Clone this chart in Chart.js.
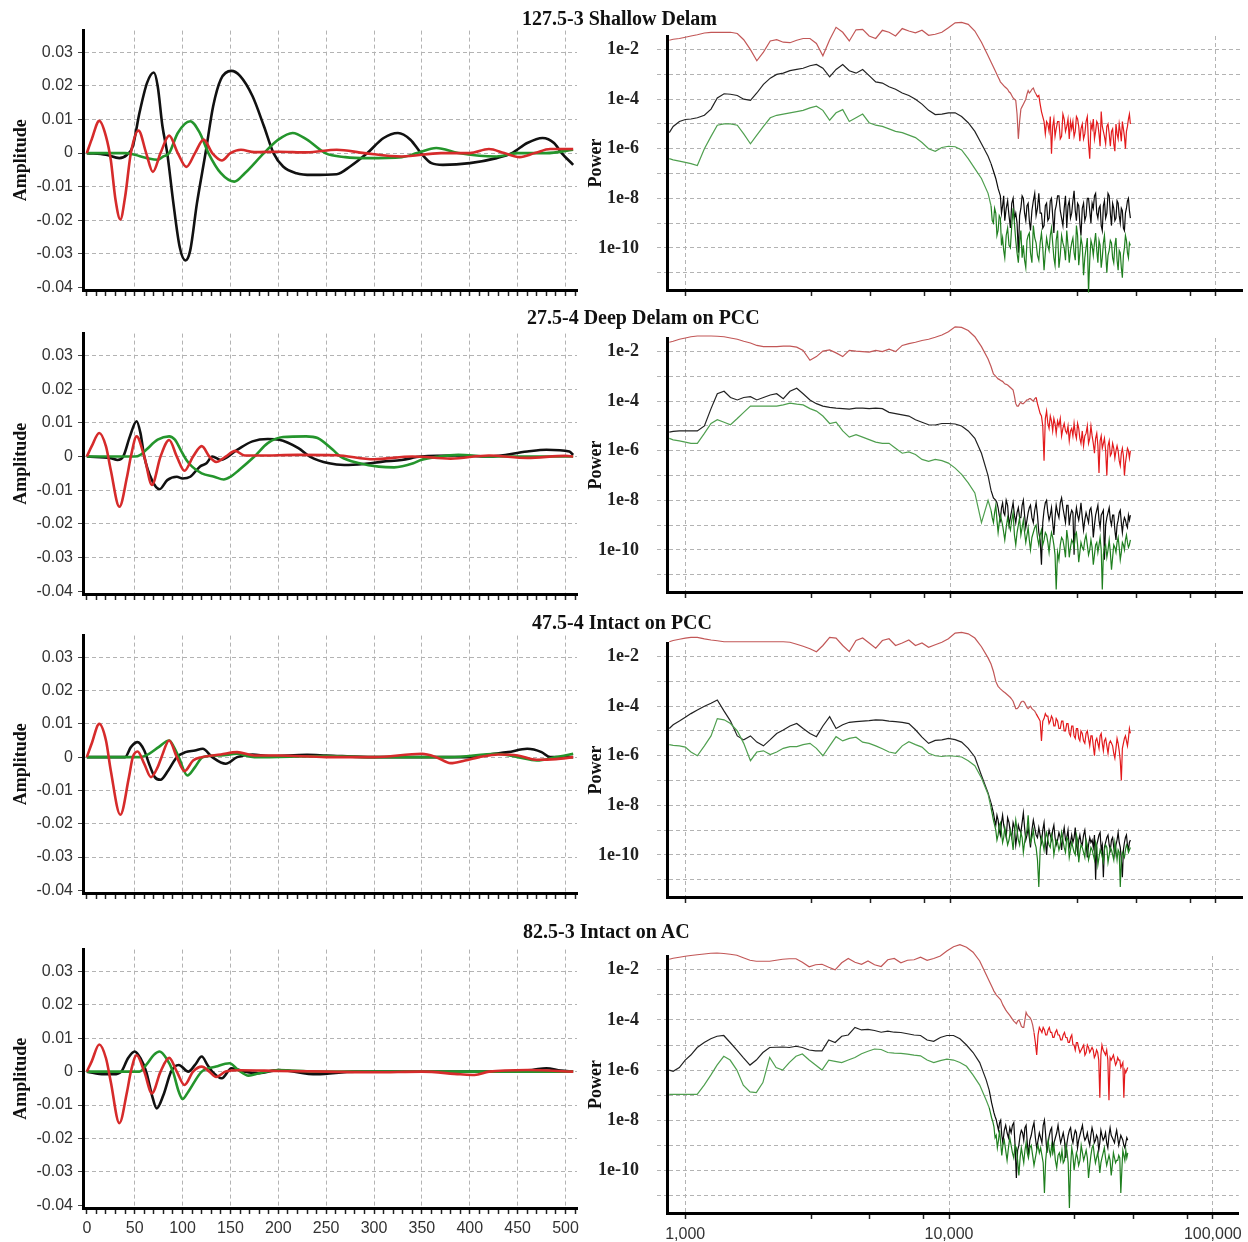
<!DOCTYPE html>
<html>
<head>
<meta charset="utf-8">
<script src="https://cdn.jsdelivr.net/npm/chart.js@4.4.1/dist/chart.umd.min.js"></script>
<style>
  body { margin: 0; background: #fff; width: 1248px; height: 1242px; position: relative; overflow: hidden; }
  .panel-title { position: absolute; font: bold 20px "Liberation Serif", "Times New Roman", serif; color: #111; white-space: nowrap; }
</style>
</head>
<body>
<script>
// time axis (samples) and amplitude ticks
const TIME_LABELS = [0, 50, 100, 150, 200, 250, 300, 350, 400, 450, 500];
const AMP_TICKS = [-0.04, -0.03, -0.02, -0.01, 0, 0.01, 0.02, 0.03];

// frequency axis (Hz) and power decades
const FREQ_TICKS = [1000, 3000, 5000, 8000, 10000, 30000, 50000, 80000, 100000];
const FREQ_LABELS = ["1,000", "", "", "", "10,000", "", "", "", "100,000"];
const POW_DECADES = [-11, -10, -9, -8, -7, -6, -5, -4, -3, -2];

// [sample, amplitude]
const shallowAmpRed = [[0,0],[5,0.004],[13,0.0096],[20,0.005],[25,-0.002],[30,-0.014],[35,-0.0198],[40,-0.013],[46,0],[54,0.0067],[62,0],[69,-0.0056],[77,0],[86,0.0052],[95,0],[104,-0.0041],[113,0],[122,0.004],[131,0],[141,-0.0022],[150,0],[161,0.001],[175,0.0003],[200,0.0004],[230,0.0002],[261,0.001],[290,0],[329,-0.001],[370,0],[400,0],[420,0.0012],[436,0],[452,-0.0012],[468,0],[484,0.0012],[508,0.0012]];
const shallowAmpBlack = [[0,0],[20,-0.0005],[34,-0.0015],[42,-0.0005],[48,0.002],[55,0.012],[63,0.021],[70,0.024],[74,0.02],[79,0.008],[84,0],[90,-0.014],[97,-0.028],[103,-0.032],[108,-0.029],[115,-0.015],[124,0],[132,0.014],[140,0.022],[151,0.0245],[160,0.023],[173,0.017],[185,0.008],[195,0],[205,-0.004],[219,-0.006],[235,-0.0065],[261,-0.0063],[275,-0.004],[293,0],[310,0.0045],[325,0.006],[338,0.004],[349,0],[360,-0.003],[372,-0.0035],[400,-0.003],[428,-0.0015],[444,0],[460,0.003],[476,0.0045],[488,0.003],[496,0],[508,-0.0035]];
const shallowAmpGreen = [[0,0],[40,0],[50,-0.0005],[63,-0.0015],[74,-0.002],[80,-0.001],[86,0],[95,0.006],[108,0.0095],[118,0.006],[127,0],[140,-0.006],[154,-0.0085],[165,-0.006],[185,0],[200,0.004],[215,0.006],[230,0.004],[249,0],[270,-0.0012],[293,-0.0015],[329,-0.0012],[345,0],[365,0.0015],[388,0],[410,-0.0008],[428,-0.001],[450,0],[480,0],[508,0.001]];

const deepAmpRed = [[0,0],[5,0.003],[13,0.007],[20,0.003],[25,-0.004],[34,-0.0149],[42,-0.006],[46,0],[52,0.006],[60,0],[68,-0.0084],[77,0],[86,0.0049],[94,0],[102,-0.0042],[111,0],[120,0.0031],[128,0],[135,-0.0016],[145,0],[155,0.0017],[165,0.0003],[180,0.0003],[220,0.0005],[260,0.0004],[300,-0.0008],[340,0],[380,-0.0006],[420,0.0003],[460,-0.0004],[500,0.0002],[508,0]];
const deepAmpBlack = [[0,0],[25,-0.0005],[32,-0.001],[38,0],[45,0.006],[52,0.0105],[56,0.007],[60,0],[68,-0.007],[76,-0.0097],[84,-0.007],[94,-0.006],[100,-0.0065],[108,-0.006],[118,-0.003],[125,-0.002],[131,0],[140,-0.001],[157,0.002],[173,0.0045],[189,0.0052],[201,0.005],[221,0.0025],[233,0],[253,-0.002],[269,-0.0025],[289,-0.0022],[309,-0.0015],[329,-0.001],[349,0],[388,0.0003],[420,0],[460,0.0015],[480,0.002],[504,0.0015],[508,0.0005]];
const deepAmpGreen = [[0,0],[50,0],[56,0.0005],[62,0.002],[74,0.005],[86,0.006],[92,0.005],[98,0.002],[104,-0.001],[110,-0.003],[120,-0.005],[133,-0.006],[143,-0.0068],[150,-0.006],[159,-0.004],[175,0],[189,0.004],[205,0.0058],[229,0.006],[241,0.0055],[257,0.002],[265,0],[285,-0.002],[305,-0.003],[321,-0.0032],[341,-0.002],[349,-0.001],[368,0],[388,0.0005],[420,0],[508,0]];

const pccAmpRed = [[0,0],[5,0.004],[13,0.01],[20,0.005],[25,-0.004],[35,-0.0173],[44,-0.006],[48,0],[53,0.0017],[60,-0.002],[67,-0.006],[74,-0.003],[78,0],[86,0.005],[94,0],[102,-0.0042],[111,-0.001],[120,0],[140,0.0008],[157,0.0015],[175,0.0005],[200,0.0005],[250,0],[300,0],[350,0.001],[365,0],[380,-0.0018],[395,-0.001],[410,0],[430,0.0008],[450,0.0005],[470,-0.0008],[490,-0.0006],[508,0]];
const pccAmpBlack = [[0,0],[30,0],[40,0],[46,0.003],[53,0.0045],[60,0.002],[65,-0.002],[71,-0.006],[77,-0.0068],[85,-0.004],[94,0],[103,0.0015],[113,0.002],[121,0.0025],[131,0],[145,-0.002],[157,0],[173,0.0008],[190,0.0003],[230,0.0007],[250,0.0005],[300,0],[350,0],[400,0],[420,0.0008],[440,0.0015],[460,0.0025],[475,0.0015],[484,0],[508,0]];
const pccAmpGreen = [[0,0],[55,0],[65,0.001],[75,0.003],[86,0.005],[91,0.003],[96,0],[105,-0.0055],[113,-0.003],[121,0],[140,0.0005],[157,0.001],[175,0],[250,0.0003],[300,0],[380,0],[428,0.001],[450,0],[470,-0.001],[490,0],[508,0.001]];

const acAmpRed = [[0,0],[5,0.003],[13,0.0081],[20,0.004],[25,-0.003],[34,-0.0154],[42,-0.006],[46,0],[52,0.0049],[60,0],[68,-0.0065],[77,0],[86,0.0041],[94,0],[102,-0.004],[111,0],[120,0.0015],[128,0],[135,-0.0016],[145,0],[160,0.0004],[200,0.0002],[250,0],[300,-0.0002],[350,0],[390,-0.0008],[405,-0.001],[420,0],[460,0.0005],[508,0]];
const acAmpBlack = [[0,0],[18,-0.0008],[28,-0.0008],[36,0],[43,0.004],[50,0.006],[56,0.004],[62,0],[68,-0.007],[73,-0.011],[80,-0.007],[88,0],[96,0.002],[106,0],[113,0.002],[120,0.0045],[126,0.002],[131,0],[141,-0.002],[151,0.001],[165,0],[180,-0.0005],[200,0.0005],[240,-0.0008],[280,0],[350,0],[420,0],[465,0.0005],[480,0.001],[495,0.0003],[508,0]];
const acAmpGreen = [[0,0],[55,0],[62,0.002],[70,0.005],[76,0.006],[83,0.004],[90,0],[96,-0.006],[100,-0.0082],[106,-0.006],[120,0],[135,0.0015],[149,0.0025],[158,0.0005],[169,-0.0012],[180,-0.0005],[200,0.0005],[240,0],[300,0],[400,0],[508,0]];

// spectrum frequencies (Hz), shared by every power trace: 50 low band + 117 high band
const FREQ_HZ = [
  870, 900, 950, 1000, 1050, 1110, 1180, 1250, 1320, 1400,
  1480, 1570, 1660, 1760, 1860, 1970, 2090, 2210, 2340, 2480,
  2630, 2780, 2950, 3120, 3300, 3500, 3700, 3920, 4150, 4400,
  4660, 4930, 5220, 5530, 5860, 6200, 6570, 6960, 7370, 7800,
  8260, 8750, 9270, 9810, 10400, 11000, 11650, 12340, 13070, 13840,
  14200, 14350, 14500, 14650, 14800, 14950, 15100, 15250, 15400, 15550, 15700, 15850, 16000,
  16200, 16400, 16600, 16800, 17000, 17200, 17400, 17600, 17800, 18000, 18200, 18400, 18600,
  18800, 19000, 19200, 19400, 19600, 19800, 20000, 20250, 20500, 20750, 21000, 21250, 21500,
  21750, 22000, 22250, 22500, 22750, 23000, 23250, 23500, 23750, 24000, 24250, 24500, 24750,
  25000, 25300, 25600, 25900, 26200, 26500, 26800, 27100, 27400, 27700, 28000, 28300, 28600,
  28900, 29200, 29500, 29800, 30100, 30400, 30700, 31000, 31350, 31700, 32050, 32400, 32750,
  33100, 33450, 33800, 34150, 34500, 34850, 35200, 35550, 35900, 36250, 36600, 36950, 37300,
  37650, 38000, 38400, 38800, 39200, 39600, 40000, 40400, 40800, 41200, 41600, 42000, 42400,
  42800, 43200, 43600, 44000, 44400, 44800, 45200, 45600, 46000, 46400, 46800, 47200, 47600
];

// power spectra, stored as log10(power)
const shallowPowRed = [
  -1.62,-1.58,-1.55,-1.5,-1.45,-1.4,-1.33,-1.3,-1.3,-1.3,
  -1.3,-1.35,-1.6,-2.0,-2.45,-2.1,-1.65,-1.6,-1.7,-1.72,
  -1.62,-1.55,-1.55,-1.75,-2.25,-1.6,-1.1,-1.3,-1.65,-1.2,
  -1.18,-1.45,-1.55,-1.22,-1.3,-1.45,-1.15,-1.25,-1.32,-1.22,
  -1.42,-1.38,-1.3,-1.12,-0.92,-0.9,-0.98,-1.25,-1.7,-2.25,
  -2.5,-2.6,-2.7,-2.8,-2.9,-3.0,-3.1,-3.2,-3.3,-3.35,-3.4,-3.45,-3.5,
  -3.55,-3.6,-3.7,-3.75,-3.85,-3.95,-4.0,-4.05,-4.6,-5.6,-4.9,-4.4,-4.3,
  -4.2,-4.1,-4.0,-3.8,-3.65,-3.75,-3.7,-3.6,-3.55,-3.7,-3.8,-3.9,-3.85,
  -4.2,-4.5,-4.7,-4.9,-5.4,-4.9,-5.0,-5.3,-4.7,-6.2,-5.1,-4.8,-5.5,
  -5.2,-4.9,-4.9,-5.6,-5.5,-4.6,-4.8,-5.3,-5.1,-4.8,-5.6,-4.9,-5.2,
  -4.9,-5.5,-5.3,-4.7,-4.8,-5.1,-5.7,-5.2,-5.0,-5.6,-5.4,-4.9,-4.7,
  -5.8,-6.4,-5.0,-5.2,-4.8,-5.6,-5.3,-4.9,-5.0,-5.4,-5.9,-4.5,-5.1,
  -5.3,-5.5,-5.8,-5.1,-5.0,-5.4,-5.9,-5.3,-5.2,-5.8,-6.1,-5.0,-5.4,
  -5.6,-5.0,-5.3,-5.7,-4.9,-5.2,-5.5,-6.0,-5.3,-5.1,-4.8,-4.6,-5.0
];
const shallowPowBlack = [
  -5.35,-5.1,-4.9,-4.82,-4.8,-4.75,-4.65,-4.4,-3.95,-3.78,
  -3.8,-3.85,-4.0,-4.05,-3.75,-3.4,-3.15,-3.0,-2.95,-2.85,
  -2.8,-2.75,-2.65,-2.6,-2.75,-3.1,-2.8,-2.6,-2.85,-2.95,
  -2.8,-3.05,-3.3,-3.35,-3.5,-3.6,-3.75,-3.85,-4.0,-4.2,
  -4.45,-4.62,-4.6,-4.55,-4.55,-4.7,-4.95,-5.3,-5.8,-6.3,
  -6.6,-6.75,-6.9,-7.05,-7.2,-7.4,-7.6,-7.75,-7.9,-8.6,-8.3,-7.9,-8.9,
  -8.4,-8.1,-8.7,-9.2,-8.2,-8.0,-8.8,-8.6,-9.0,-10.2,-8.7,-8.4,-7.9,
  -8.0,-8.6,-8.9,-8.3,-8.2,-8.9,-9.3,-8.5,-8.1,-7.8,-8.7,-8.4,-7.8,
  -8.6,-8.6,-9.2,-9.1,-8.3,-8.2,-8.9,-8.8,-8.1,-8.0,-8.7,-9.4,-8.5,
  -8.3,-7.9,-7.9,-8.5,-8.8,-9.1,-8.4,-7.9,-9.2,-8.3,-8.1,-8.8,-8.6,
  -8.1,-7.7,-8.5,-8.9,-8.2,-8.3,-9.0,-9.5,-8.4,-8.2,-8.9,-8.7,-8.0,
  -8.0,-8.5,-9.0,-8.2,-8.4,-7.9,-7.8,-8.6,-8.8,-8.4,-8.3,-9.1,-9.3,
  -8.3,-8.1,-8.8,-8.6,-7.8,-7.9,-8.6,-9.1,-8.2,-8.4,-8.9,-8.8,-8.1,
  -8.2,-8.7,-9.0,-8.4,-8.5,-9.2,-9.3,-8.6,-8.4,-8.1,-8.0,-8.5,-8.8
];
const shallowPowGreen = [
  -6.4,-6.45,-6.5,-6.55,-6.6,-6.68,-6.0,-5.5,-5.05,-5.0,
  -5.0,-5.05,-5.4,-5.8,-5.45,-5.1,-4.75,-4.65,-4.6,-4.55,
  -4.5,-4.45,-4.35,-4.28,-4.45,-4.85,-4.55,-4.42,-4.9,-4.75,
  -4.6,-4.95,-5.05,-5.1,-5.2,-5.3,-5.35,-5.45,-5.55,-5.75,
  -6.0,-6.1,-5.95,-5.9,-5.92,-6.05,-6.4,-6.8,-7.2,-7.8,
  -8.3,-8.9,-9.0,-8.4,-8.6,-9.5,-9.3,-8.7,-8.8,-9.9,-9.6,-10.1,-10.4,
  -9.5,-9.2,-9.9,-10.0,-9.1,-8.4,-9.0,-9.7,-10.2,-10.6,-9.8,-9.3,-10.4,
  -9.9,-10.5,-10.8,-9.7,-9.5,-9.4,-10.2,-10.6,-9.1,-9.6,-9.8,-10.3,-10.5,
  -9.8,-9.4,-10.0,-10.9,-10.2,-9.6,-9.9,-10.1,-9.5,-9.2,-9.8,-10.4,-10.7,
  -9.7,-9.3,-10.8,-10.3,-9.5,-9.8,-10.0,-10.5,-9.3,-9.9,-10.6,-10.1,-9.8,
  -9.6,-10.2,-10.5,-9.1,-9.5,-10.7,-10.2,-9.6,-9.9,-11.1,-10.4,-10.0,-9.6,
  -11.8,-10.5,-9.7,-9.9,-10.3,-9.8,-9.4,-10.1,-10.6,-9.7,-9.9,-10.8,-10.4,
  -9.8,-9.5,-10.2,-11.0,-10.3,-10.1,-9.7,-9.8,-10.4,-10.6,-9.9,-9.6,-10.5,
  -10.9,-10.1,-10.2,-10.8,-11.2,-10.3,-10.0,-9.5,-9.7,-10.2,-10.4,-9.8,-9.9
];

const deepPowRed = [
  -1.62,-1.58,-1.5,-1.45,-1.4,-1.37,-1.37,-1.37,-1.38,-1.4,
  -1.45,-1.5,-1.58,-1.65,-1.75,-1.8,-1.8,-1.8,-1.78,-1.78,
  -1.82,-1.95,-2.35,-2.2,-1.98,-1.93,-2.05,-2.2,-1.95,-1.98,
  -2.0,-2.02,-1.95,-2.0,-1.9,-2.0,-1.75,-1.68,-1.62,-1.55,
  -1.5,-1.42,-1.33,-1.2,-1.0,-1.02,-1.15,-1.4,-1.8,-2.3,
  -2.6,-2.75,-2.9,-2.95,-3.0,-3.05,-3.1,-3.12,-3.15,-3.18,-3.2,-3.25,-3.3,
  -3.32,-3.35,-3.4,-3.45,-3.5,-3.55,-3.8,-4.1,-4.2,-4.2,-4.1,-4.05,-4.1,
  -4.1,-4.05,-4.0,-3.95,-3.95,-3.9,-3.9,-3.95,-4.0,-3.9,-3.85,-4.1,-4.3,
  -4.5,-4.6,-5.0,-6.4,-4.7,-4.4,-4.9,-5.1,-4.6,-4.8,-5.2,-4.7,-4.9,
  -5.3,-4.8,-5.0,-4.7,-5.4,-5.1,-4.9,-5.2,-5.3,-5.0,-5.6,-5.2,-5.1,
  -5.4,-4.9,-5.3,-5.5,-4.9,-5.1,-5.5,-5.7,-5.2,-5.8,-5.4,-5.3,-5.0,
  -5.7,-5.5,-5.0,-5.4,-5.7,-6.1,-5.5,-5.3,-5.8,-6.9,-5.6,-5.4,-5.9,
  -5.7,-5.5,-6.0,-7.0,-5.8,-5.6,-6.2,-6.1,-5.7,-5.9,-6.3,-6.0,-5.8,
  -6.0,-6.4,-6.6,-6.1,-5.9,-6.2,-7.0,-6.5,-6.2,-5.9,-6.0,-6.3,-6.0
];
const deepPowBlack = [
  -5.25,-5.22,-5.2,-5.2,-5.2,-5.2,-5.0,-4.3,-3.7,-3.6,
  -3.85,-3.95,-3.85,-3.82,-3.95,-3.85,-3.75,-3.7,-3.9,-3.6,
  -3.48,-3.7,-3.95,-4.1,-4.2,-4.25,-4.28,-4.3,-4.32,-4.28,
  -4.28,-4.3,-4.28,-4.3,-4.45,-4.5,-4.55,-4.6,-4.75,-4.85,
  -4.95,-4.96,-4.9,-4.9,-4.92,-5.0,-5.2,-5.5,-6.1,-7.0,
  -7.6,-7.75,-7.9,-7.95,-8.0,-8.1,-8.3,-8.6,-8.8,-8.3,-8.1,-8.5,-8.6,
  -8.0,-8.2,-9.0,-8.7,-8.4,-8.1,-8.6,-8.9,-8.5,-8.3,-8.7,-8.7,-8.2,
  -8.0,-8.6,-9.1,-8.8,-8.5,-8.3,-8.2,-8.7,-8.9,-8.4,-8.1,-8.6,-9.3,
  -9.6,-10.6,-8.9,-8.4,-8.1,-8.0,-8.5,-8.8,-8.6,-8.3,-8.9,-9.4,-8.7,
  -8.2,-8.5,-8.7,-8.1,-7.9,-8.3,-8.6,-8.9,-8.2,-8.2,-9.0,-8.6,-8.4,
  -8.5,-10.2,-8.7,-8.3,-8.6,-8.8,-8.5,-8.1,-8.7,-9.2,-8.8,-8.5,-8.7,
  -8.9,-8.4,-8.3,-8.7,-9.5,-9.0,-8.6,-8.4,-8.2,-8.8,-9.1,-8.6,-8.5,
  -8.4,-10.4,-9.0,-8.7,-8.5,-8.3,-8.8,-9.0,-8.6,-8.6,-9.2,-9.6,-9.0,
  -8.8,-8.5,-8.4,-8.9,-9.3,-8.9,-8.7,-8.8,-9.0,-9.1,-8.6,-8.8,-8.6
];
const deepPowGreen = [
  -5.5,-5.56,-5.6,-5.65,-5.7,-5.7,-5.3,-4.9,-4.75,-4.85,
  -4.95,-4.7,-4.45,-4.2,-4.2,-4.2,-4.2,-4.2,-4.15,-4.08,
  -4.12,-4.15,-4.3,-4.4,-4.6,-4.9,-4.85,-5.2,-5.45,-5.35,
  -5.45,-5.55,-5.65,-5.7,-5.7,-5.9,-6.1,-6.05,-6.15,-6.35,
  -6.43,-6.35,-6.4,-6.5,-6.7,-6.95,-7.3,-7.7,-8.9,-8.0,
  -8.4,-8.7,-8.9,-8.5,-8.2,-8.8,-9.3,-8.9,-8.6,-8.8,-9.0,-9.3,-9.6,
  -9.1,-8.7,-9.0,-9.2,-8.8,-8.5,-9.4,-9.8,-9.3,-9.0,-8.7,-9.4,-9.1,
  -8.8,-9.3,-9.7,-9.4,-9.1,-9.6,-10.0,-9.5,-9.3,-9.1,-9.0,-9.5,-9.8,
  -9.4,-9.2,-9.8,-9.6,-9.3,-9.4,-9.7,-10.1,-9.6,-9.3,-9.5,-9.8,-10.2,
  -11.6,-10.1,-10.4,-9.8,-9.5,-9.6,-9.9,-10.3,-9.2,-9.6,-10.3,-9.9,-9.6,
  -9.7,-9.9,-9.4,-9.3,-9.8,-10.5,-10.1,-9.7,-9.9,-10.0,-9.6,-9.4,-9.8,
  -10.2,-10.0,-9.6,-9.9,-10.6,-10.2,-9.8,-9.7,-10.1,-9.8,-9.5,-10.0,-11.6,
  -10.2,-9.9,-9.8,-10.3,-10.0,-9.6,-10.1,-10.8,-10.3,-9.8,-9.9,-10.1,-9.7,
  -9.5,-9.9,-10.4,-10.1,-9.7,-9.8,-10.0,-9.6,-9.4,-9.7,-9.9,-9.8,-9.6
];

const pccPowRed = [
  -1.4,-1.35,-1.3,-1.25,-1.22,-1.22,-1.28,-1.33,-1.36,-1.4,
  -1.4,-1.4,-1.4,-1.4,-1.4,-1.4,-1.4,-1.4,-1.4,-1.42,
  -1.5,-1.58,-1.68,-1.8,-1.55,-1.22,-1.25,-1.55,-1.8,-1.35,
  -1.25,-1.45,-1.66,-1.35,-1.28,-1.55,-1.45,-1.33,-1.55,-1.45,
  -1.62,-1.52,-1.42,-1.28,-1.05,-1.02,-1.08,-1.25,-1.6,-2.05,
  -2.3,-2.45,-2.6,-2.8,-3.0,-3.1,-3.2,-3.25,-3.3,-3.34,-3.38,-3.42,-3.45,
  -3.5,-3.55,-3.6,-3.65,-3.72,-3.8,-3.95,-4.1,-4.1,-4.05,-3.95,-3.85,-3.8,
  -3.8,-3.85,-3.95,-4.05,-4.1,-4.05,-4.0,-4.1,-4.15,-4.2,-4.3,-4.4,-4.5,
  -4.6,-5.4,-4.6,-4.5,-4.3,-4.4,-4.4,-4.7,-4.6,-4.4,-4.5,-4.8,-4.8,
  -4.5,-4.6,-4.9,-4.9,-4.6,-4.6,-5.0,-5.0,-4.7,-4.7,-5.1,-5.2,-4.8,
  -4.8,-5.2,-5.3,-4.9,-4.9,-5.3,-5.4,-5.0,-5.1,-5.4,-5.5,-5.1,-5.0,
  -5.3,-5.6,-5.2,-5.2,-5.6,-6.0,-5.4,-5.3,-5.5,-5.7,-5.2,-5.1,-5.5,
  -5.8,-5.4,-5.3,-5.6,-5.9,-5.5,-5.4,-5.5,-5.6,-5.9,-6.1,-5.7,-5.3,
  -5.5,-5.8,-6.2,-7.0,-5.7,-5.5,-5.3,-5.2,-5.4,-5.6,-5.3,-4.9,-5.1
];
const pccPowBlack = [
  -4.9,-4.75,-4.6,-4.45,-4.3,-4.15,-4.0,-3.88,-3.75,-4.2,
  -4.6,-5.2,-5.36,-5.2,-5.45,-5.6,-5.35,-5.1,-4.96,-4.8,
  -4.7,-4.9,-5.1,-5.23,-4.8,-4.42,-4.9,-4.75,-4.65,-4.62,
  -4.6,-4.58,-4.55,-4.56,-4.6,-4.62,-4.65,-4.7,-4.95,-5.25,
  -5.5,-5.38,-5.36,-5.3,-5.35,-5.45,-5.7,-6.05,-6.8,-7.5,
  -7.9,-8.1,-8.3,-8.6,-8.8,-8.4,-8.6,-9.0,-9.2,-8.7,-8.4,-8.8,-9.0,
  -9.3,-8.5,-8.7,-9.1,-9.3,-8.7,-8.9,-9.6,-9.2,-8.8,-9.0,-9.1,-8.7,
  -8.3,-8.9,-9.4,-9.2,-8.9,-9.3,-9.7,-9.0,-8.6,-8.9,-9.2,-9.3,-8.9,
  -9.2,-9.5,-9.0,-8.7,-9.4,-10.0,-9.3,-9.0,-9.2,-9.4,-9.0,-8.8,-9.3,
  -9.6,-9.4,-9.1,-9.3,-9.8,-9.2,-8.9,-9.4,-9.3,-9.0,-9.7,-9.5,-9.2,
  -9.5,-9.3,-8.9,-9.6,-9.9,-9.4,-9.2,-9.5,-9.6,-9.2,-9.0,-9.5,-10.1,
  -9.6,-9.3,-9.5,-9.4,-9.7,-9.2,-11.0,-9.6,-9.4,-9.2,-9.1,-9.8,-9.6,
  -10.9,-9.7,-9.5,-9.3,-9.2,-9.6,-9.8,-9.4,-9.3,-9.7,-10.0,-9.6,-9.4,
  -9.1,-9.5,-9.7,-10.2,-10.9,-9.8,-9.5,-9.3,-9.2,-9.6,-9.8,-9.5,-9.4
];
const pccPowGreen = [
  -5.55,-5.58,-5.6,-5.65,-5.85,-6.0,-5.6,-5.2,-4.5,-4.55,
  -4.7,-5.0,-5.5,-6.2,-5.85,-5.8,-5.95,-5.85,-5.7,-5.63,
  -5.63,-5.55,-5.5,-5.7,-6.0,-5.6,-5.23,-5.4,-5.3,-5.25,
  -5.45,-5.5,-5.6,-5.72,-5.85,-5.9,-5.6,-5.43,-5.55,-5.65,
  -5.9,-6.0,-6.03,-6.0,-6.02,-6.05,-6.2,-6.4,-6.9,-7.55,
  -8.1,-8.35,-8.6,-8.8,-9.0,-9.4,-9.2,-8.8,-8.7,-9.1,-9.5,-9.3,-8.9,
  -9.2,-9.6,-9.4,-9.0,-9.3,-9.8,-9.1,-8.6,-9.0,-9.4,-9.6,-9.1,-9.3,
  -9.9,-9.5,-9.2,-9.0,-8.4,-9.1,-9.5,-9.3,-9.0,-9.5,-9.7,-10.2,-11.3,
  -9.8,-9.3,-9.5,-9.8,-9.3,-9.1,-9.4,-9.6,-9.7,-9.2,-9.4,-10.0,-9.7,
  -9.4,-9.5,-9.8,-9.6,-9.1,-9.4,-9.7,-9.9,-9.3,-9.4,-10.1,-9.8,-9.5,
  -9.7,-9.9,-10.0,-9.2,-9.4,-10.3,-9.9,-9.6,-9.7,-9.9,-10.1,-9.4,-9.6,
  -10.2,-10.0,-9.7,-9.8,-10.0,-10.2,-9.5,-9.7,-10.4,-10.1,-9.8,-9.9,-10.1,
  -10.3,-9.8,-9.6,-9.7,-10.3,-10.0,-9.7,-9.8,-10.0,-10.2,-9.5,-9.8,-10.2,
  -9.8,-9.9,-11.3,-10.2,-9.9,-10.0,-10.1,-9.8,-9.6,-9.7,-9.9,-9.8,-9.7
];

const acPowRed = [
  -1.58,-1.54,-1.5,-1.46,-1.43,-1.4,-1.37,-1.34,-1.33,-1.35,
  -1.38,-1.42,-1.52,-1.62,-1.66,-1.66,-1.66,-1.62,-1.58,-1.56,
  -1.56,-1.7,-1.88,-1.8,-1.78,-1.9,-2.0,-1.72,-1.55,-1.7,
  -1.78,-1.65,-1.8,-1.87,-1.6,-1.55,-1.72,-1.62,-1.6,-1.5,
  -1.62,-1.55,-1.45,-1.25,-1.08,-1.0,-1.1,-1.3,-1.65,-2.2,
  -2.45,-2.55,-2.65,-2.75,-2.85,-2.92,-3.0,-3.05,-3.1,-3.15,-3.2,-3.3,-3.4,
  -3.5,-3.6,-3.68,-3.75,-3.82,-3.9,-3.98,-4.05,-4.1,-4.15,-4.05,-4.0,-4.1,
  -4.25,-4.3,-4.3,-4.0,-3.7,-3.8,-3.85,-3.9,-4.0,-4.2,-4.5,-4.9,-5.4,
  -4.6,-4.3,-4.4,-4.5,-4.3,-4.4,-4.6,-4.6,-4.4,-4.3,-4.5,-4.5,-4.7,
  -4.7,-4.5,-4.4,-4.6,-4.6,-4.8,-4.8,-4.6,-4.5,-4.7,-4.7,-4.9,-4.9,
  -4.7,-4.6,-5.0,-5.0,-5.2,-4.9,-4.9,-5.1,-5.3,-5.2,-5.1,-5.0,-5.4,
  -5.3,-5.0,-5.1,-5.3,-5.2,-5.1,-5.2,-5.5,-5.4,-5.2,-5.3,-5.6,-7.1,
  -5.4,-5.0,-5.2,-5.3,-5.4,-5.2,-5.6,-7.2,-5.5,-5.6,-5.5,-5.4,-5.6,
  -5.8,-5.7,-5.5,-5.6,-5.6,-5.9,-5.8,-5.7,-7.1,-6.0,-6.1,-6.0,-5.9
];
const acPowBlack = [
  -6.0,-6.05,-5.9,-5.6,-5.4,-5.1,-4.9,-4.75,-4.65,-4.62,
  -4.9,-5.2,-5.5,-5.8,-5.6,-5.3,-5.1,-5.09,-5.08,-5.1,
  -5.05,-5.1,-5.2,-5.23,-5.23,-4.8,-4.9,-4.65,-4.6,-4.3,
  -4.4,-4.38,-4.42,-4.49,-4.45,-4.49,-4.5,-4.55,-4.6,-4.62,
  -4.8,-4.85,-4.7,-4.62,-4.62,-4.75,-5.0,-5.3,-5.7,-6.4,
  -6.8,-7.05,-7.3,-7.5,-7.7,-7.85,-7.98,-8.2,-8.4,-8.1,-8.0,-8.6,-8.9,
  -8.4,-8.2,-8.5,-8.7,-8.3,-8.5,-8.2,-8.1,-9.0,-10.3,-9.2,-9.0,-8.6,
  -8.4,-8.5,-8.8,-8.3,-8.2,-8.9,-9.4,-8.8,-8.6,-8.3,-8.1,-8.7,-9.1,
  -8.8,-8.5,-8.7,-8.9,-8.2,-8.0,-8.6,-9.3,-8.9,-8.6,-8.4,-8.3,-9.2,
  -8.9,-8.7,-8.5,-8.2,-8.6,-8.9,-8.7,-8.5,-8.8,-9.5,-8.9,-8.6,-8.4,
  -8.3,-8.7,-8.9,-8.6,-8.4,-8.5,-9.1,-8.8,-8.6,-8.4,-8.2,-8.6,-8.8,
  -8.7,-8.5,-8.8,-9.0,-8.6,-8.3,-8.5,-8.9,-8.8,-8.6,-8.7,-9.2,-8.9,
  -8.4,-8.6,-8.8,-8.7,-8.5,-8.9,-9.1,-8.6,-8.3,-8.6,-8.7,-8.8,-8.9,
  -8.6,-8.4,-8.7,-9.0,-8.8,-8.6,-8.7,-8.8,-9.0,-9.1,-8.9,-8.7,-8.8
];
const acPowGreen = [
  -6.97,-6.97,-6.97,-6.97,-6.97,-6.97,-6.6,-6.2,-5.8,-5.45,
  -5.6,-6.0,-6.6,-6.87,-6.9,-6.5,-5.5,-5.9,-6.0,-5.7,
  -5.45,-5.36,-5.6,-5.8,-6.0,-5.6,-5.65,-5.7,-5.6,-5.5,
  -5.35,-5.25,-5.16,-5.18,-5.3,-5.32,-5.33,-5.36,-5.4,-5.43,
  -5.6,-5.7,-5.62,-5.56,-5.6,-5.7,-5.85,-6.2,-6.6,-7.2,
  -7.5,-7.7,-7.9,-8.05,-8.25,-8.7,-8.6,-9.1,-8.8,-8.4,-8.9,-9.4,-9.0,
  -8.8,-9.2,-9.6,-9.1,-8.7,-9.0,-9.3,-9.5,-9.0,-9.1,-9.6,-10.2,-9.5,
  -9.1,-9.4,-9.7,-9.2,-8.9,-9.3,-9.5,-9.1,-9.0,-9.4,-9.8,-9.5,-9.2,
  -9.0,-9.3,-9.1,-9.4,-9.7,-10.9,-9.6,-9.1,-8.8,-9.2,-9.4,-9.0,-9.3,
  -9.0,-9.6,-9.9,-9.4,-9.3,-9.6,-9.2,-9.7,-9.6,-9.0,-9.2,-9.7,-11.5,
  -9.8,-9.1,-9.4,-10.0,-9.6,-9.3,-9.5,-9.8,-9.6,-9.0,-9.3,-9.6,-9.4,
  -9.2,-9.5,-10.3,-9.8,-9.4,-9.1,-9.0,-9.4,-9.7,-9.5,-9.3,-9.6,-10.1,
  -9.7,-9.5,-9.3,-9.1,-9.5,-9.8,-9.6,-9.4,-9.6,-10.2,-9.8,-9.3,-9.5,
  -9.7,-9.6,-9.6,-9.4,-9.5,-10.9,-10.0,-9.2,-9.4,-9.6,-9.2,-9.5,-9.3
];

const GRID = "#b3b3b3";
const SANS = '"Liberation Sans", Arial, sans-serif';
const SERIF = '"Liberation Serif", "Times New Roman", serif';
const AMP_COLORS = ["#d62b2b", "#24952c", "#111111"];
// [low band colour, noisy high band colour, frequency where the colour turns]
const POW_STYLES = [
  ["#4f9f4f", "#1f7f1f", 14000],
  ["#222222", "#0a0a0a", 14000],
  ["#c25757", "#e31a1c", 21000],
];

// pixel landmarks of each row: y of 0.03 / -0.04 (left) and 1e-2 / 1e-10 (right)
const rows = [
  { title: "127.5-3 Shallow Delam", tx: 522, ty: 19, a03: 50, a04: 287, p2: 50, p10: 248,
    amp: [shallowAmpRed, shallowAmpGreen, shallowAmpBlack],
    pow: [shallowPowGreen, shallowPowBlack, shallowPowRed] },
  { title: "27.5-4 Deep Delam on PCC", tx: 527, ty: 318, a03: 353, a04: 591, p2: 352, p10: 550,
    amp: [deepAmpRed, deepAmpGreen, deepAmpBlack],
    pow: [deepPowGreen, deepPowBlack, deepPowRed] },
  { title: "47.5-4 Intact on PCC", tx: 532, ty: 623, a03: 655, a04: 890, p2: 657, p10: 855,
    amp: [pccAmpRed, pccAmpGreen, pccAmpBlack],
    pow: [pccPowGreen, pccPowBlack, pccPowRed] },
  { title: "82.5-3 Intact on AC", tx: 523, ty: 932, a03: 969, a04: 1205, p2: 970, p10: 1170,
    amp: [acAmpRed, acAmpGreen, acAmpBlack],
    pow: [acPowGreen, acPowBlack, acPowRed] },
];

function makeCanvas(left, top, w, h) {
  const c = document.createElement("canvas");
  c.width = w;
  c.height = h;
  c.style.cssText = `position:absolute;left:${left}px;top:${top}px;width:${w}px;height:${h}px`;
  document.body.appendChild(c);
  return c;
}

function ampChart(row, showLabels) {
  const d = (row.a04 - row.a03) / 7;
  const top = Math.round(row.a03 - 0.65 * d);
  const bottom = Math.round(row.a04 + 0.08 * d);
  const cl = 8, cw = 600, areaL = 83, areaR = 577, xh = 36;
  const ct = top - 12;
  const ch = bottom + xh - ct;

  new Chart(makeCanvas(cl, ct, cw, ch), {
    type: "line",
    data: {
      datasets: row.amp.map((pts, i) => ({
        data: pts.map((p) => ({ x: p[0], y: p[1] })),
        borderColor: AMP_COLORS[i],
        borderWidth: 2.6,
        pointRadius: 0,
        cubicInterpolationMode: "monotone",
        fill: false,
        clip: false,
      })),
    },
    options: {
      responsive: false,
      animation: false,
      layout: { padding: { top: top - ct, right: cl + cw - areaR, left: 0, bottom: 0 } },
      plugins: { legend: { display: false }, tooltip: { enabled: false } },
      scales: {
        x: {
          type: "linear",
          min: -4,
          max: 512,
          afterBuildTicks: (s) => {
            const t = [];
            for (let v = 0; v <= 510; v += 10) t.push({ value: v });
            s.ticks = t;
          },
          afterFit: (s) => { s.height = xh; },
          grid: {
            color: (ctx) => (ctx.tick && ctx.tick.value > 0 && TIME_LABELS.includes(ctx.tick.value) ? GRID : "rgba(0,0,0,0)"),
            tickColor: "#222",
            tickLength: 6,
            tickWidth: 1.5,
          },
          border: { color: "#000", width: 3, dash: [4, 3] },
          ticks: {
            autoSkip: false,
            maxRotation: 0,
            padding: 5,
            color: "#333",
            font: { family: SANS, size: 16 },
            callback: (v) => (showLabels && TIME_LABELS.includes(v) ? String(v) : ""),
          },
        },
        y: {
          type: "linear",
          min: -0.0408,
          max: 0.0365,
          afterBuildTicks: (s) => { s.ticks = AMP_TICKS.map((v) => ({ value: v })); },
          afterFit: (s) => { s.width = areaL - cl; },
          grid: {
            color: (ctx) => (ctx.tick && ctx.tick.value > -0.039 ? GRID : "rgba(0,0,0,0)"),
            tickColor: "#444",
            tickLength: 5,
          },
          border: { color: "#000", width: 3, dash: [4, 3] },
          ticks: {
            padding: 5,
            color: "#333",
            font: { family: SANS, size: 16 },
            callback: (v) => (Math.abs(v) < 1e-9 ? "0" : Number(v).toFixed(2)),
          },
          title: {
            display: true,
            text: "Amplitude",
            color: "#111",
            padding: { top: 3, bottom: 0 },
            font: { family: SERIF, size: 18, weight: "bold" },
          },
        },
      },
    },
  });
}

function powChart(row, showLabels) {
  const d = (row.p10 - row.p2) / 8;
  const top = Math.round(row.p2 - 0.55 * d);
  const bottom = Math.round(row.p10 + 1.7 * d);
  const cl = 584, cw = 664, areaL = 667, areaR = 1242, xh = 44;
  const ct = top - 30;
  const ch = bottom + xh - ct;

  new Chart(makeCanvas(cl, ct, cw, ch), {
    type: "line",
    data: {
      datasets: row.pow.map((logs, i) => {
        const [lowColor, highColor, turn] = POW_STYLES[i];
        return {
          data: FREQ_HZ.map((f, k) => ({ x: f, y: Math.pow(10, logs[k]) })),
          borderColor: lowColor,
          segment: { borderColor: (ctx) => (ctx.p0.parsed.x >= turn ? highColor : lowColor) },
          borderWidth: 1.2,
          pointRadius: 0,
          tension: 0,
          fill: false,
          clip: false,
        };
      }),
    },
    options: {
      responsive: false,
      animation: false,
      layout: { padding: { top: top - ct, right: cl + cw - areaR, left: 0, bottom: 0 } },
      plugins: { legend: { display: false }, tooltip: { enabled: false } },
      scales: {
        x: {
          type: "logarithmic",
          min: 853,
          max: 125400,
          afterBuildTicks: (s) => { s.ticks = FREQ_TICKS.map((v) => ({ value: v })); },
          afterFit: (s) => { s.height = xh; },
          grid: {
            color: (ctx) => {
              const i = ctx.tick ? FREQ_TICKS.indexOf(ctx.tick.value) : -1;
              return i >= 0 && FREQ_LABELS[i] ? GRID : "rgba(0,0,0,0)";
            },
            tickColor: "#222",
            tickLength: 6,
            tickWidth: 1.5,
          },
          border: { color: "#000", width: 3, dash: [4, 3] },
          ticks: {
            autoSkip: false,
            maxRotation: 0,
            padding: 6,
            color: "#333",
            font: { family: SANS, size: 16 },
            callback: (v) => {
              const i = FREQ_TICKS.indexOf(v);
              return showLabels && i >= 0 ? FREQ_LABELS[i] : "";
            },
          },
        },
        y: {
          type: "logarithmic",
          min: Math.pow(10, -11.7),
          max: Math.pow(10, -1.45),
          afterBuildTicks: (s) => { s.ticks = POW_DECADES.map((e) => ({ value: Math.pow(10, e) })); },
          afterFit: (s) => { s.width = areaL - cl; },
          grid: {
            color: GRID,
            tickColor: GRID,
            tickLength: 10,
            tickBorderDash: [4, 3],
          },
          border: { color: "#000", width: 3, dash: [4, 3] },
          ticks: {
            padding: 18,
            color: "#222",
            font: { family: SERIF, size: 18, weight: "bold" },
            callback: (v) => {
              const e = Math.round(Math.log10(v));
              return e % 2 === 0 ? "1e" + e : "";
            },
          },
          title: {
            display: true,
            text: "Power",
            color: "#111",
            padding: { top: 2, bottom: 0 },
            font: { family: SERIF, size: 18, weight: "bold" },
          },
        },
      },
    },
  });
}

rows.forEach((row, r) => {
  const last = r === rows.length - 1;
  ampChart(row, last);
  powChart(row, last);
  const t = document.createElement("div");
  t.className = "panel-title";
  t.textContent = row.title;
  t.style.left = row.tx + "px";
  t.style.top = row.ty - 12 + "px";
  document.body.appendChild(t);
});
</script>
</body>
</html>
